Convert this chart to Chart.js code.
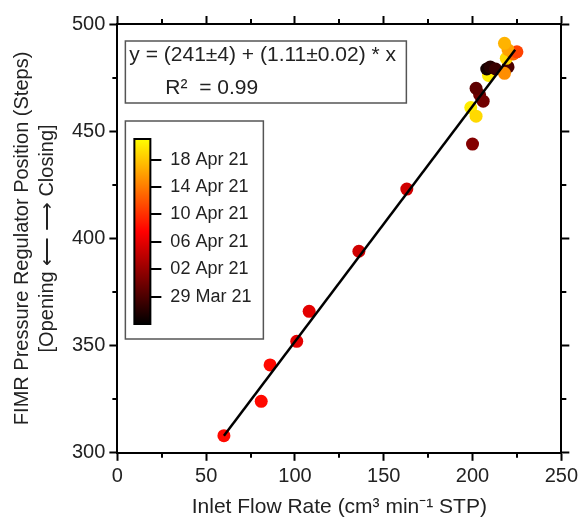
<!DOCTYPE html>
<html>
<head>
<meta charset="utf-8">
<script src="https://cdn.jsdelivr.net/npm/chart.js@4.4.0/dist/chart.umd.min.js"></script>
<style>
  body { margin: 0; background: #fff; }
  #wrap { width: 582px; height: 520px; }
</style>
</head>
<body>
<div id="wrap"><canvas id="chart" width="582" height="520"></canvas></div>
<script>
// FIMR regulator position vs inlet flow, points coloured by sample date
const flowRate = [60, 81, 86, 101, 108, 136, 163, 200, 199, 202, 206, 204, 202, 209, 208, 210, 213, 220, 218, 219, 223, 225, 220, 218];
const position = [308, 324, 341, 352, 366, 394, 423, 444, 461, 457, 464, 467, 470, 476, 479, 480, 479, 480, 477, 484, 486, 487, 488, 491];
const sampleDate = [
    '2021-04-08', '2021-04-08', '2021-04-08', '2021-04-06', '2021-04-06', '2021-04-05', '2021-04-05', '2021-04-01',
    '2021-04-20', '2021-04-19', '2021-03-31', '2021-03-31', '2021-03-30', '2021-04-20', '2021-03-26', '2021-03-27',
    '2021-03-28', '2021-03-29', '2021-04-15', '2021-04-19', '2021-04-13', '2021-04-11', '2021-04-16', '2021-04-17'
];

// linear fit end points
const fitX = [60, 224];
const fitY = [308, 488];

// colour scale
const cbStart = '2021-03-25';
const cbEnd = '2021-04-21';
const cbTickDates = ['2021-03-29', '2021-04-02', '2021-04-06', '2021-04-10', '2021-04-14', '2021-04-18'];
const cbTickLabels = ['29 Mar 21', '02 Apr 21', '06 Apr 21', '10 Apr 21', '14 Apr 21', '18 Apr 21'];

const xMinor = [25, 75, 125, 175, 225];
const yMinor = [325, 375, 425, 475];

const FONT = '"Liberation Sans", Arial, sans-serif';

function dateFrac(d) {
    const t0 = Date.parse(cbStart), t1 = Date.parse(cbEnd);
    return Math.min(1, Math.max(0, (Date.parse(d) - t0) / (t1 - t0)));
}
function hotColor(t) {
    let r, g;
    if (t < 0.5) { r = 255 * t / 0.5; g = 0; }
    else { r = 255; g = 255 * (t - 0.5) / 0.5; }
    return `rgb(${Math.round(r)},${Math.round(g)},0)`;
}

const points = flowRate.map((x, i) => ({ x: x, y: position[i] }));
const fitLine = fitX.map((x, i) => ({ x: x, y: fitY[i] }));

const extras = {
    id: 'extras',
    afterDraw(chart) {
        const { ctx, chartArea: a, scales } = chart;
        ctx.save();
        // minor ticks on the four sides
        ctx.strokeStyle = '#000';
        ctx.lineWidth = 2;
        ctx.beginPath();
        xMinor.forEach(v => {
            const px = Math.round(scales.x.getPixelForValue(v));
            ctx.moveTo(px, a.bottom); ctx.lineTo(px, a.bottom + 5);
            ctx.moveTo(px, a.top); ctx.lineTo(px, a.top - 5);
        });
        yMinor.forEach(v => {
            const py = Math.round(scales.y.getPixelForValue(v));
            ctx.moveTo(a.left, py); ctx.lineTo(a.left - 5, py);
            ctx.moveTo(a.right, py); ctx.lineTo(a.right + 5, py);
        });
        ctx.stroke();

        // fit equation box
        ctx.strokeStyle = '#555';
        ctx.lineWidth = 1.5;
        ctx.strokeRect(a.left + 8, a.top + 17, 281, 62);
        ctx.fillStyle = '#222';
        ctx.font = '21px ' + FONT;
        ctx.textBaseline = 'middle';
        ctx.textAlign = 'left';
        ctx.fillText('y = (241±4) + (1.11±0.02) * x', a.left + 12, a.top + 31);
        ctx.fillText('R²  = 0.99', a.left + 48, a.top + 64);

        // colour bar legend
        ctx.font = '18px ' + FONT;
        const bx = a.left + 8, by = a.top + 97;
        ctx.strokeRect(bx, by, 138, 218);
        const barL = a.left + 17, barR = a.left + 33, barT = a.top + 115, barB = a.top + 300;
        const grad = ctx.createLinearGradient(0, barB, 0, barT);
        for (let i = 0; i <= 20; i++) grad.addColorStop(i / 20, hotColor(i / 20));
        ctx.fillStyle = grad;
        ctx.fillRect(barL, barT, barR - barL, barB - barT);
        ctx.strokeStyle = '#000';
        ctx.lineWidth = 2;
        ctx.strokeRect(barL, barT, barR - barL, barB - barT);
        ctx.fillStyle = '#222';
        cbTickDates.forEach((d, i) => {
            const py = Math.round(barB - dateFrac(d) * (barB - barT));
            ctx.beginPath();
            ctx.moveTo(barR, py); ctx.lineTo(barR + 11, py);
            ctx.stroke();
            ctx.fillText(cbTickLabels[i], barR + 20, py);
        });
        ctx.restore();
    }
};

const axisGrid = { drawOnChartArea: false, tickLength: 8, tickWidth: 2, tickColor: '#000' };
const axisBorder = { display: true, width: 2, color: '#000' };

new Chart(document.getElementById('chart').getContext('2d'), {
    data: {
        datasets: [{
            type: 'line',
            data: fitLine,
            borderColor: '#000',
            borderWidth: 2.5,
            pointRadius: 0,
            order: 0
        }, {
            type: 'scatter',
            data: points,
            backgroundColor: (c) => hotColor(dateFrac(sampleDate[c.dataIndex] || cbStart)),
            borderWidth: 0,
            pointRadius: 6.5,
            order: 1
        }]
    },
    options: {
        responsive: false,
        animation: false,
        layout: { padding: { left: 10, right: 12, top: 16, bottom: 0 } },
        plugins: { legend: { display: false }, tooltip: { enabled: false } },
        scales: {
            x: {
                type: 'linear',
                position: 'bottom',
                min: 0, max: 250,
                ticks: { stepSize: 50, color: '#222', padding: 4, font: { size: 20, family: FONT } },
                grid: axisGrid,
                border: axisBorder,
                title: {
                    display: true,
                    text: 'Inlet Flow Rate (cm³ min⁻¹ STP)',
                    color: '#222',
                    padding: { top: 2, bottom: 0 },
                    font: { size: 21, family: FONT }
                }
            },
            xTop: {
                type: 'linear',
                position: 'top',
                min: 0, max: 250,
                ticks: { display: false, stepSize: 50 },
                grid: axisGrid,
                border: axisBorder
            },
            y: {
                type: 'linear',
                position: 'left',
                min: 300, max: 500,
                ticks: { stepSize: 50, color: '#222', padding: 4, font: { size: 20, family: FONT } },
                grid: axisGrid,
                border: axisBorder,
                title: {
                    display: true,
                    text: ['FIMR Pressure Regulator Position (Steps)', '[Opening ⟵ ⟶ Closing]'],
                    color: '#222',
                    padding: { top: 0, bottom: 8 },
                    font: { size: 20, family: FONT, lineHeight: 1.25 }
                }
            },
            yRight: {
                type: 'linear',
                position: 'right',
                min: 300, max: 500,
                ticks: { display: false, stepSize: 50 },
                grid: axisGrid,
                border: axisBorder
            }
        }
    },
    plugins: [extras]
});
</script>
</body>
</html>
